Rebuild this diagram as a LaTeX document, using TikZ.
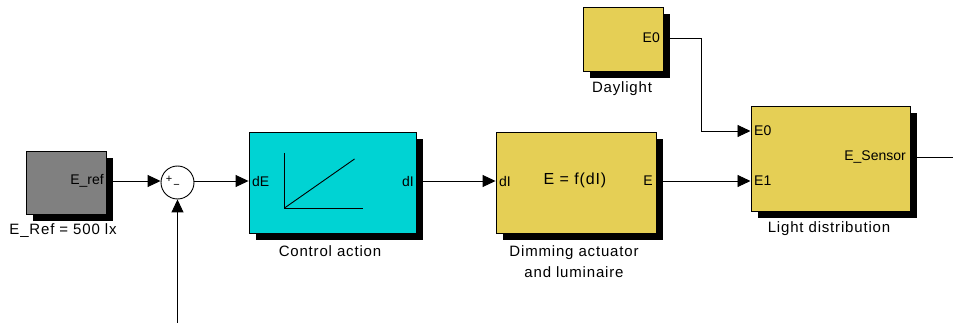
\documentclass[tikz,border=0pt]{standalone}
\usepackage{fontspec}
\setmainfont{Liberation Sans}
\newfontfamily\capfont[LetterSpace=5.5]{Liberation Sans}
\usetikzlibrary{arrows.meta,shadows}
\definecolor{blkyellow}{RGB}{229,207,85}
\definecolor{blkcyan}{RGB}{0,211,211}
\definecolor{blkgray}{RGB}{128,128,128}
\begin{document}
\begin{tikzpicture}[x=1pt,y=-1pt,
  font=\fontsize{14}{16}\selectfont,
  block/.style={draw=black,line width=0.9pt,inner sep=0pt,
    drop shadow={shadow xshift=7pt,shadow yshift=-7pt,opacity=1,fill=black}},
  arr/.style={line width=0.9pt,-{Triangle[length=13pt,width=12pt]}},
  wire/.style={line width=0.9pt},
  port/.style={inner sep=0pt},
  caption/.style={inner sep=0pt,align=center,font=\capfont\fontsize{15}{21}\selectfont}]
\useasboundingbox[fill=white] (0,0) rectangle (953,323);
% blocks
\node[block,fill=blkgray,minimum width=80pt,minimum height=63pt] (eref) at (66,182.5) {};
\node[block,fill=blkcyan,minimum width=167pt,minimum height=101pt] (ctrl) at (332.5,182.5) {};
\node[block,fill=blkyellow,minimum width=160pt,minimum height=101pt] (dim) at (576,182.5) {};
\node[block,fill=blkyellow,minimum width=80pt,minimum height=64pt] (day) at (623,39) {};
\node[block,fill=blkyellow,minimum width=159pt,minimum height=105pt] (light) at (830.5,158.5) {};
\node[draw=black,line width=0.9pt,fill=white,circle,minimum size=33pt,inner sep=0pt] (sum) at (177.5,182.5) {};
% sum signs
\node[port,font=\fontsize{11}{12}\selectfont] (plus) at (169,179.5) {+};
\node[port,font=\fontsize{11}{12}\selectfont] (minus) at (176.5,186) {\textminus};
% port labels
\node[port,anchor=east] (erefout) at (104,181) {E\_ref};
\node[port,anchor=west] (ctrlin) at (252,181) {dE};
\node[port,anchor=east] (ctrlout) at (414,181) {dI};
\node[port,anchor=west] (dimin) at (499,181) {dI};
\node[port,anchor=east] (dimout) at (653,181) {E};
\node[port,font=\capfont\fontsize{16}{18}\selectfont] (dimfun) at (575,180) {E = f(dI)};
\node[port,anchor=east] (dayout) at (660,38) {E0};
\node[port,anchor=west] (lightin0) at (754,131) {E0};
\node[port,anchor=west] (lightin1) at (754,181) {E1};
\node[port,anchor=east] (lightout) at (906,157) {E\_Sensor};
% captions
\node[caption] (erefcap) at (63,231) {E\_Ref = 500 lx};
\node[caption] (ctrlcap) at (330,251) {Control action};
\node[caption] (dimcap) at (574,261.5) {Dimming actuator\\and luminaire};
\node[caption] (daycap) at (622,89) {Daylight};
\node[caption] (lightcap) at (829,228.5) {Light distribution};
% ramp graph inside control block
\coordinate (gtop) at (284.5,153);
\coordinate (gorig) at (284.5,208);
\coordinate (gright) at (362.5,208);
\coordinate (gdiag) at (354.5,159);
\draw[wire] (gtop) -- (gorig) -- (gright);
\draw[wire] (gorig) -- (gdiag);
% connectors
\coordinate (e0in) at (750.5,131);
\coordinate (e1in) at (750.5,181);
\coordinate (fb) at (177.5,323);
\coordinate (out) at (953,157);
\coordinate (dayport) at (663,38);
\draw[arr] (eref.east|-0,181) -- (sum.west|-0,181);
\draw[arr] (sum.east|-0,181) -- (ctrl.west|-0,181);
\draw[arr] (ctrl.east|-0,181) -- (dim.west|-0,181);
\draw[arr] (dim.east|-0,181) -- (e1in);
\draw[arr] (dayport) -- ++(38.5,0) |- (e0in);
\draw[arr] (fb) -- (sum.south);
\draw[wire] (light.east|-out) -- (out);
\end{tikzpicture}
\end{document}
